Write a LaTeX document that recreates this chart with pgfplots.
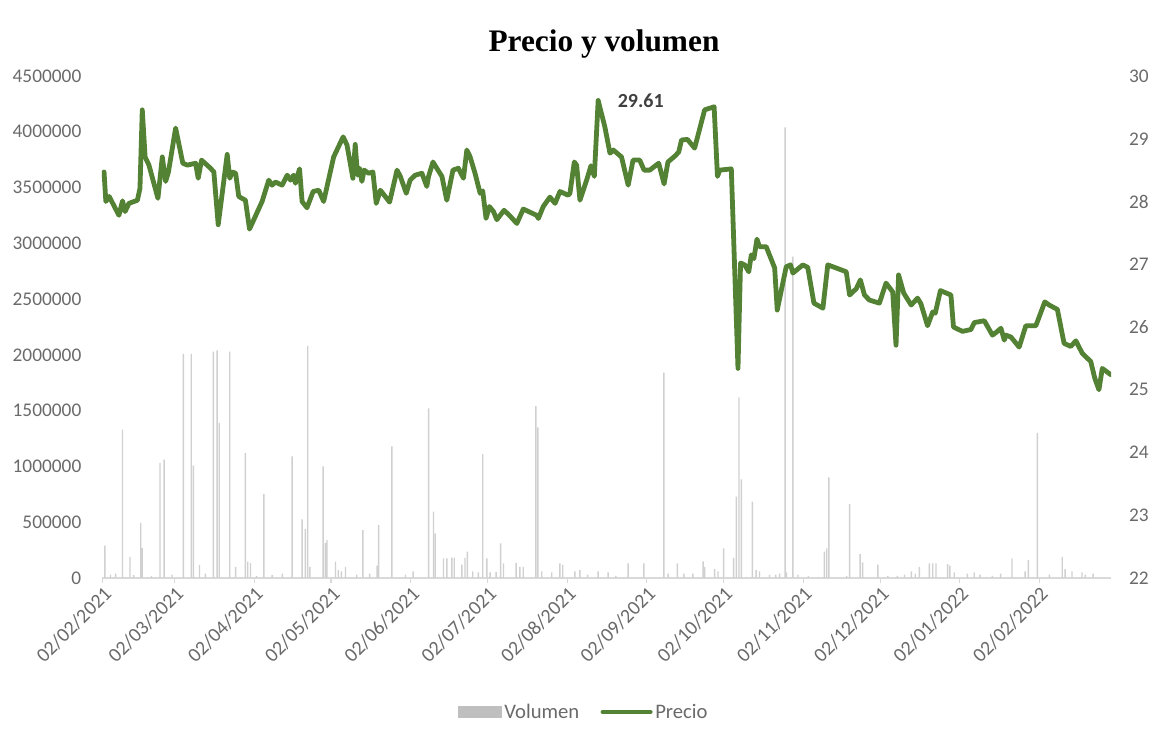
\documentclass[border=0pt]{standalone}
\usepackage{pgfplots}
\pgfplotsset{compat=1.18}
\usepackage{pgfplotstable}
\usepackage{fontspec}
\setmainfont{Carlito}
\newfontfamily\titlefont{Liberation Serif}
\definecolor{pricegreen}{HTML}{548235}
\definecolor{barcol}{HTML}{D0D0D0}
\definecolor{legbar}{HTML}{BFBFBF}
\definecolor{labgray}{HTML}{6A6A6A}
\definecolor{axisgray}{HTML}{D9D9D9}
\definecolor{dlab}{HTML}{404040}

\pgfplotstableread{
day vol
0.8 290000
3.0 30000
5.0 40000
7.7 1330000
10.6 190000
12.0 25000
14.8 495000
15.4 270000
19.0 20000
22.3 1030000
23.9 1060000
27.0 30000
31.4 2010000
34.5 2010000
35.3 1010000
37.7 116000
40.0 40000
43.1 2030000
44.6 2040000
45.4 1390000
49.5 2030000
51.8 100000
55.6 1120000
56.5 146000
57.6 134000
60.0 20000
62.8 753000
66.0 25000
70.0 40000
73.8 1090000
77.7 526000
79.0 437000
79.9 2080000
80.7 100000
85.9 1000000
86.8 314000
87.4 340000
90.7 146000
91.8 70000
93.0 60000
94.6 100000
99.0 30000
101.4 430000
104.0 40000
106.9 110000
107.5 475000
112.7 1180000
118.0 30000
121.0 60000
127.0 1520000
128.9 594000
129.6 400000
132.8 176000
134.1 176000
136.1 183000
137.0 183000
140.0 120000
141.2 180000
142.1 236000
144.2 60000
146.4 50000
148.1 1110000
149.7 176000
151.0 50000
153.3 55000
155.1 311000
156.2 130000
161.1 135000
162.6 100000
163.9 100000
168.8 1540000
169.6 1350000
171.1 60000
175.0 50000
178.2 130000
179.3 120000
184.0 60000
186.0 70000
189.0 30000
193.1 60000
197.0 50000
200.0 20000
204.8 130000
210.9 130000
218.7 1840000
220.4 40000
224.0 130000
226.5 40000
230.0 40000
234.0 150000
234.6 100000
238.5 80000
239.8 60000
242.0 266000
245.9 180000
247.0 729000
248.0 1620000
248.9 884000
253.2 684000
254.7 70000
256.0 60000
259.9 30000
262.3 30000
263.8 40000
266.0 4040000
266.5 50000
269.0 2880000
271.0 30000
275.0 20000
281.3 236000
282.2 266000
283.0 902000
290.0 20000
291.1 663000
295.2 215000
296.2 140000
302.1 120000
306.0 20000
309.7 20000
312.5 30000
315.2 60000
316.7 40000
318.3 100000
322.2 130000
323.5 130000
324.8 130000
329.3 125000
330.2 110000
331.9 50000
337.0 40000
339.7 50000
342.0 30000
346.7 20000
350.0 40000
354.4 176000
359.5 60000
360.8 160000
364.3 1300000
369.0 30000
374.0 190000
375.1 80000
377.8 60000
381.7 50000
383.0 30000
386.0 40000
}\voltable

\pgfplotstableread{
day price
0.5 28.47
1.2 28.00
2.5 28.08
6.3 27.78
7.7 28.01
8.7 27.84
10.2 27.97
13.5 28.02
14.5 28.21
15.4 29.46
16.5 28.71
18.0 28.58
21.5 28.05
23.2 28.71
24.5 28.32
25.6 28.47
28.4 29.17
31.2 28.61
33.0 28.58
36.2 28.61
37.2 28.37
38.5 28.66
42.0 28.53
43.3 28.47
45.0 27.63
48.5 28.75
49.5 28.37
50.5 28.47
51.8 28.45
53.0 28.08
55.6 28.02
57.2 27.56
62.1 28.00
64.7 28.34
66.0 28.26
67.3 28.31
69.9 28.26
71.9 28.42
73.2 28.34
74.4 28.42
75.1 28.29
76.7 28.52
77.7 28.00
79.6 27.90
82.0 28.16
84.2 28.18
86.1 28.00
90.0 28.71
93.7 29.03
95.2 28.90
97.5 28.37
98.4 28.91
99.3 28.42
100.1 28.53
101.0 28.32
101.9 28.50
103.6 28.45
105.3 28.47
106.6 27.97
108.2 28.18
110.1 28.08
111.8 27.99
114.7 28.50
116.0 28.40
118.3 28.13
119.8 28.34
121.8 28.42
124.4 28.45
126.3 28.24
127.0 28.40
128.7 28.63
130.2 28.53
132.2 28.40
134.1 28.02
136.5 28.50
138.6 28.53
140.6 28.37
141.9 28.82
143.2 28.71
145.1 28.45
147.1 28.13
148.1 28.17
149.4 27.73
150.7 27.92
152.3 27.84
153.6 27.71
156.4 27.86
158.5 27.78
161.4 27.65
163.9 27.88
169.1 27.78
169.8 27.73
171.7 27.92
174.3 28.07
176.3 27.97
178.2 28.16
181.4 28.10
182.1 28.13
183.8 28.63
184.7 28.58
186.0 28.02
188.6 28.34
190.3 28.57
191.6 28.40
193.1 29.61
195.7 29.19
197.7 28.77
199.0 28.82
202.2 28.71
204.8 28.26
206.7 28.66
209.3 28.66
211.0 28.50
213.2 28.50
216.7 28.61
218.8 28.28
220.3 28.63
223.2 28.73
224.5 28.79
225.6 28.98
227.9 28.99
230.7 28.85
234.6 29.46
238.3 29.51
239.6 28.40
240.5 28.50
245.0 28.52
247.6 25.34
248.6 27.02
250.2 26.99
251.8 26.88
252.8 27.15
253.8 27.09
255.0 27.40
256.0 27.28
258.6 27.28
261.9 26.94
262.9 26.27
266.4 26.96
268.1 26.99
269.0 26.86
272.9 26.99
274.8 26.95
277.2 26.38
280.7 26.30
282.6 26.99
284.6 26.96
289.8 26.88
291.1 26.51
293.7 26.61
295.3 26.75
296.9 26.51
298.8 26.43
302.7 26.38
305.3 26.70
307.9 26.56
309.2 25.71
310.2 26.83
312.2 26.54
315.1 26.35
317.6 26.46
318.9 26.37
321.5 26.02
323.5 26.24
324.5 26.22
326.5 26.58
330.6 26.51
331.6 26.00
335.1 25.93
338.4 25.96
339.7 26.07
343.6 26.10
346.8 25.87
348.1 25.91
350.1 25.98
351.4 25.79
352.0 25.87
354.0 25.84
357.2 25.68
359.8 26.02
363.7 26.02
367.2 26.40
368.9 26.35
372.1 26.28
374.7 25.74
377.3 25.69
379.3 25.78
381.8 25.58
385.1 25.45
386.7 25.18
388.3 25.00
389.6 25.34
392.9 25.24
}\pricetable

\begin{document}
\begin{tikzpicture}
\path[use as bounding box] (-76.5pt,-114pt) rectangle (791.25pt,433.5pt);
\pgfplotsset{
  common/.style={
    scale only axis, width=756.75pt, height=376.5pt,
    at={(0,0)}, anchor=south west,
    xmin=-0.3, xmax=393,
    /pgf/number format/assume math mode=true,
  }
}
\begin{axis}[common,
  ymin=0, ymax=4500000,
  axis x line*=bottom, axis y line*=left,
  y axis line style={draw=none},
  x axis line style={-, draw=axisgray, line width=0.9pt},
  xtick={0,28,59,89,120,150,181,212,242,273,303,334,365},
  xticklabels={02/02/2021,02/03/2021,02/04/2021,02/05/2021,02/06/2021,02/07/2021,02/08/2021,02/09/2021,02/10/2021,02/11/2021,02/12/2021,02/01/2022,02/02/2022},
  xtick style={draw=axisgray, line width=0.9pt},
  x tick label style={rotate=45, anchor=north east, font=\fontsize{15}{16}\selectfont, text=labgray, inner sep=1pt},
  major tick length=4pt, tick align=outside,
  ytick={0,500000,1000000,1500000,2000000,2500000,3000000,3500000,4000000,4500000},
  yticklabels={0,500000,1000000,1500000,2000000,2500000,3000000,3500000,4000000,4500000},
  ytick style={draw=none},
  y tick label style={font=\fontsize{14.5}{16}\selectfont, text=labgray, anchor=east, xshift=-8pt},
  scaled y ticks=false,
]
\addplot[ybar, bar width=0.55, fill=barcol, draw=none] table[x=day, y=vol] {\voltable};
\end{axis}
\begin{axis}[common,
  ymin=22, ymax=30,
  axis x line=none, axis y line*=right,
  y axis line style={draw=none},
  ytick={22,23,24,25,26,27,28,29,30},
  yticklabels={22,23,24,25,26,27,28,29,30},
  ytick style={draw=none},
  y tick label style={font=\fontsize{14.5}{16}\selectfont, text=labgray, anchor=west, xshift=10pt},
  title={Precio y volumen},
  title style={at={(0.4975,1)}, anchor=center, yshift=18pt, font=\titlefont\bfseries\fontsize{23.5}{25}\selectfont, text=black},
  legend columns=2,
  legend style={at={(0.478,0)}, anchor=center, yshift=-100.5pt, draw=none, fill=none,
    font=\fontsize{15.5}{17}\selectfont, text=labgray,
    /tikz/every even column/.append style={column sep=14pt}},
]
\addlegendimage{legend image code/.code={\fill[legbar] (0pt,-4pt) rectangle (32pt,4pt);}}
\addlegendentry{Volumen}
\addplot[draw=pricegreen, line width=3.6pt, line join=round, line cap=round, no marks,
  legend image code/.code={\draw[pricegreen, line width=3pt] (0pt,0pt) -- (36pt,0pt);}]
  table[x=day, y=price] {\pricetable};
\addlegendentry{Precio}
\node[anchor=west, inner sep=0pt, xshift=14.5pt, font=\bfseries\fontsize{15}{16}\selectfont, text=dlab] at (axis cs:193.1,29.61) {29.61};
\end{axis}
\end{tikzpicture}
\end{document}
